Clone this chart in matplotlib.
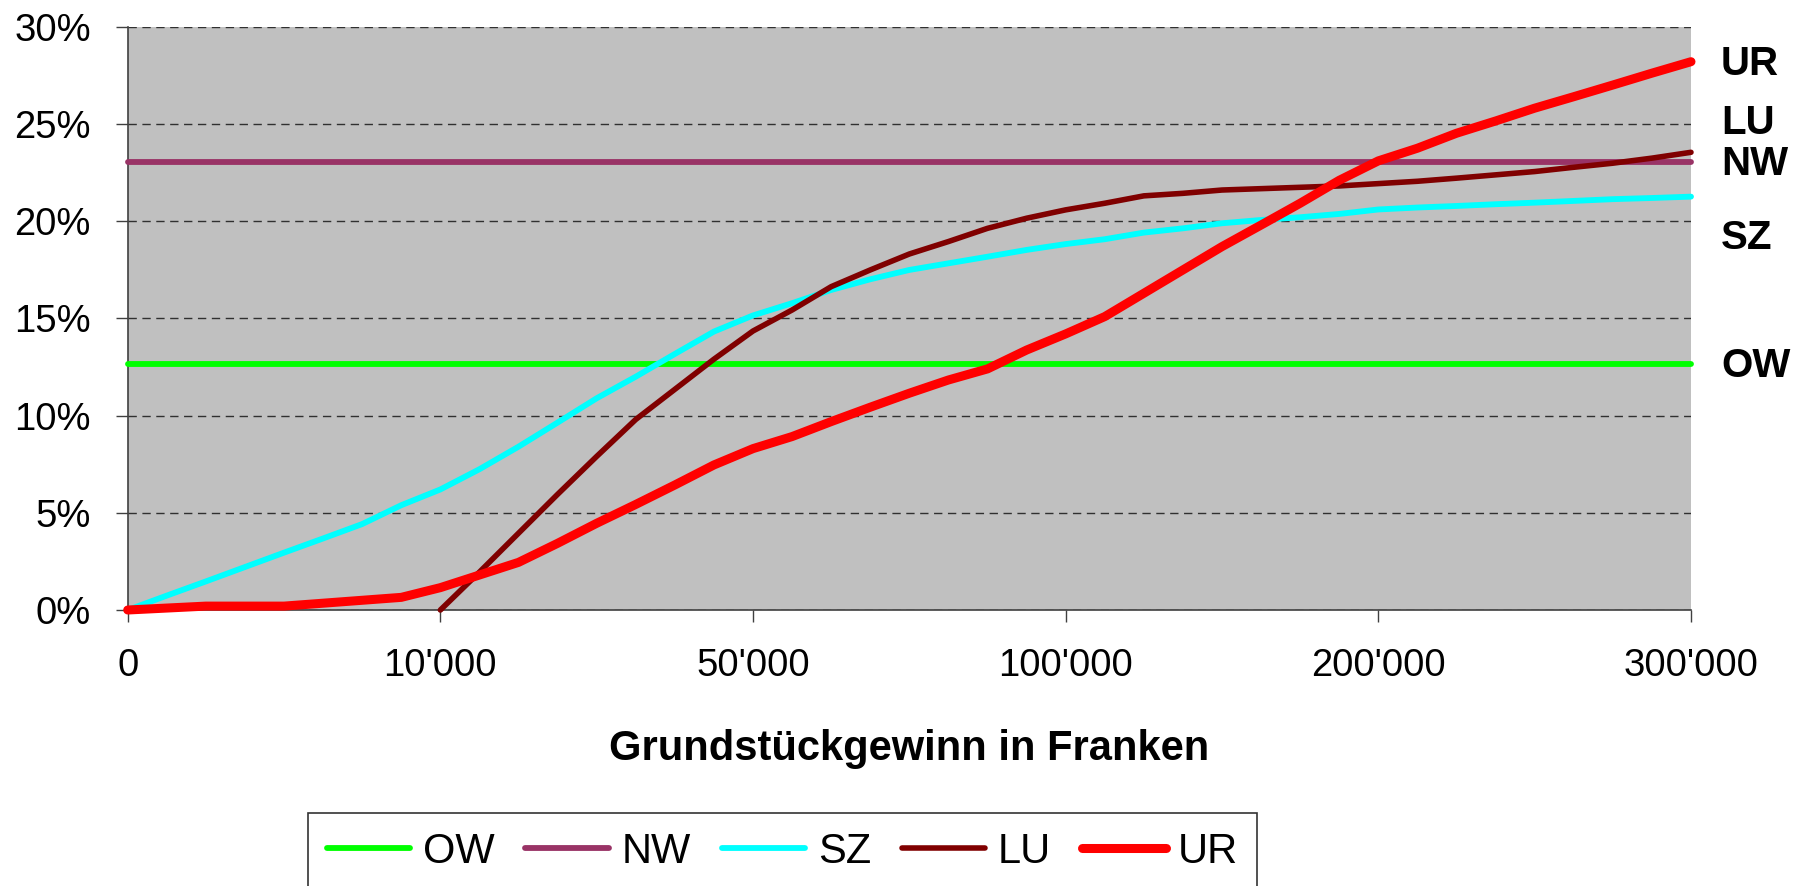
import numpy as np
import matplotlib
matplotlib.use("Agg")
import matplotlib.pyplot as plt

plt.rcParams['font.family'] = ['Liberation Sans', 'DejaVu Sans']

# ---- data ----
tick_labels = ["0", "10'000", "50'000", "100'000", "200'000", "300'000"]
tick_positions = [0, 8, 16, 24, 32, 40]

ow_rate = 12.65
nw_rate = 23.05

sz = [0.0, 0.74, 1.47, 2.21, 2.95, 3.68, 4.42, 5.39, 6.2, 7.24,
      8.40, 9.64, 10.89, 12.0, 13.17, 14.32, 15.15, 15.78, 16.46, 17.01,
      17.49, 17.83, 18.17, 18.52, 18.82, 19.07, 19.41, 19.63, 19.89, 20.06,
      20.2, 20.37, 20.6, 20.7, 20.78, 20.87, 20.95, 21.04, 21.13, 21.19, 21.26]

lu = [None, None, None, None, None, None, None, None,
      0.0, 1.95, 3.95, 5.95, 7.9, 9.8, 11.35, 12.9, 14.35, 15.43, 16.63, 17.49,
      18.31, 18.95, 19.63, 20.15, 20.58, 20.92, 21.3, 21.43, 21.6, 21.67,
      21.74, 21.81, 21.93, 22.05, 22.21, 22.38, 22.55, 22.77, 22.98, 23.24, 23.54]

ur = [0.0, 0.1, 0.2, 0.2, 0.2, 0.35, 0.5, 0.65, 1.15, 1.8,
      2.45, 3.43, 4.46, 5.43, 6.43, 7.46, 8.3, 8.92, 9.69, 10.43,
      11.15, 11.83, 12.4, 13.37, 14.2, 15.09, 16.29, 17.49, 18.69, 19.8,
      20.92, 22.1, 23.1, 23.75, 24.52, 25.15, 25.81, 26.4, 27.0, 27.61, 28.2]

series_names = ["OW", "NW", "SZ", "LU", "UR"]
colors = {"OW": "#00FF00", "NW": "#993366", "SZ": "#00FFFF", "LU": "#800000", "UR": "#FF0000"}
widths = {"OW": 4.2, "NW": 4.2, "SZ": 4.2, "LU": 4.0, "UR": 6.5}

end_labels = {"UR": 28.06, "LU": 25.03, "NW": 22.92, "SZ": 19.11, "OW": 12.53}

# ---- figure ----
W, H = 1807, 886
fig = plt.figure(figsize=(W / 100, H / 100), dpi=100)
left, right, top, bottom = 127.7, 1691, 26.7, 610
ax = fig.add_axes([left / W, 1 - bottom / H, (right - left) / W, (bottom - top) / H])
ax.set_facecolor("#C0C0C0")

x = np.arange(len(ur))
values = {
    "OW": np.full(len(x), ow_rate),
    "NW": np.full(len(x), nw_rate),
    "SZ": np.array(sz, dtype=float),
    "LU": np.array([np.nan if v is None else v for v in lu], dtype=float),
    "UR": np.array(ur, dtype=float),
}

handles = []
for i, name in enumerate(series_names):
    h, = ax.plot(x, values[name], color=colors[name], lw=widths[name],
                 solid_capstyle='round', solid_joinstyle='round',
                 zorder=3 + i, clip_on=False, label=name)
    handles.append(h)

ax.set_xlim(0, 40)
ax.set_ylim(0, 30)
ax.set_yticks(range(0, 31, 5))
ax.set_yticklabels([f"{v}%" for v in range(0, 31, 5)])
ax.set_xticks(tick_positions)
ax.set_xticklabels(tick_labels)

ax.yaxis.grid(True, color="#303030", linestyle=(0, (6, 4)), linewidth=1.0, zorder=1)
ax.set_axisbelow(True)

for s in ["top", "right"]:
    ax.spines[s].set_visible(False)
for s in ["left", "bottom"]:
    ax.spines[s].set_color("#404040")
    ax.spines[s].set_linewidth(1.2)

ax.tick_params(axis='both', direction='out', length=8.6, width=1.0, color="#404040",
               labelsize=27.5, labelcolor="black")
ax.tick_params(axis='x', pad=19)
ax.tick_params(axis='y', pad=18)

ax.set_xlabel("Grundstückgewinn in Franken", fontsize=30, fontweight='bold')
ax.xaxis.set_label_coords(0.5, (bottom - 749) / (bottom - top))
ax.xaxis.label.set_va('center')

for name, yv in end_labels.items():
    ax.text(40.77, yv, name, fontsize=29, fontweight='bold', ha='left', va='center',
            clip_on=False)

leg = fig.legend(handles=handles, labels=series_names, loc='upper left',
                 bbox_to_anchor=(308 / W, 1 - 813 / H), bbox_transform=fig.transFigure,
                 ncol=5, fontsize=30, frameon=True, fancybox=False, borderaxespad=0,
                 handlelength=2.0, handletextpad=0.3, columnspacing=0.75,
                 borderpad=0.45)
leg.get_frame().set_edgecolor("black")
leg.get_frame().set_linewidth(1.2)
for lh in leg.get_lines():
    lh.set_solid_capstyle('round')

fig.savefig("out.png", dpi=100, facecolor="white")
